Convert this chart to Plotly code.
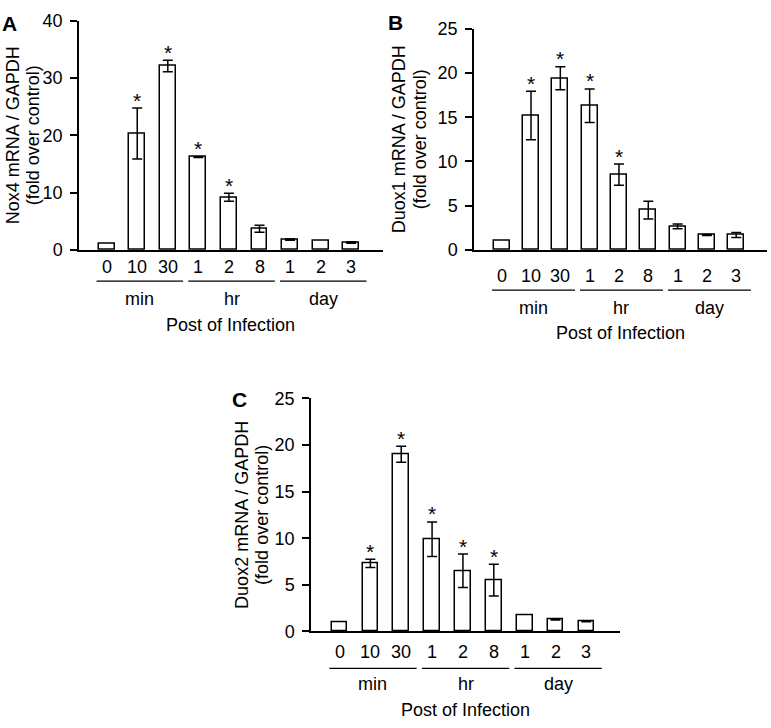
import plotly.graph_objects as go

# ---------------- data ----------------
categories = ["0", "10", "30", "1", "2", "8", "1", "2", "3"]
groups = ["min", "hr", "day"]
group_start = [0, 3, 6]

nox4 = [1.0, 20.3, 32.1, 16.2, 9.2, 3.7, 1.8, 1.6, 1.3]
nox4_err = [None, 4.45, 1.0, 0.08, 0.7, 0.6, 0.1, None, 0.12]
nox4_sig = [False, True, True, True, True, False, False, False, False]

duox1 = [1.0, 15.2, 19.4, 16.3, 8.5, 4.5, 2.65, 1.68, 1.68]
duox1_err = [None, 2.75, 1.3, 1.9, 1.2, 1.0, 0.27, 0.05, 0.28]
duox1_sig = [False, True, True, True, True, False, False, False, False]

duox2 = [1.0, 7.3, 19.0, 9.9, 6.5, 5.5, 1.78, 1.3, 1.1]
duox2_err = [None, 0.45, 0.85, 1.85, 1.8, 1.7, None, 0.07, 0.06]
duox2_sig = [False, True, True, True, True, True, False, False, False]

W, H = 771, 728
FONT = "Liberation Sans, Arial, Helvetica, sans-serif"
FS = 18

panels = [
    dict(letter="A", vals=nox4, err=nox4_err, sig=nox4_sig,
         ylabel1="Nox4 mRNA / GAPDH", ylabel2="(fold over control)",
         xpx=(79, 382.7), ypx=(11, 246.7), yrange=[0, 40], dtick=10,
         xrange=[-0.905, 9.03], bw=0.52,
         off=(17.5, 31.3, 49.3, 75.3), ylab_off=(-66, -46), letter_pos=(9, 13.5)),
    dict(letter="B", vals=duox1, err=duox1_err, sig=duox1_sig,
         ylabel1="Duox1 mRNA / GAPDH", ylabel2="(fold over control)",
         xpx=(474, 767), ypx=(19.3, 246.7), yrange=[0, 25], dtick=5,
         xrange=[-0.945, 9.05], bw=0.55,
         off=(26.3, 40.3, 58.3, 83.3), ylab_off=(-75, -54), letter_pos=(396, 12.7)),
    dict(letter="C", vals=duox2, err=duox2_err, sig=duox2_sig,
         ylabel1="Duox2 mRNA / GAPDH", ylabel2="(fold over control)",
         xpx=(311, 620), ypx=(399.3, 639), yrange=[0, 25], dtick=5,
         xrange=[-0.924, 9.09], bw=0.51,
         off=(21, 37, 53, 79), ylab_off=(-69, -49), letter_pos=(239, 400.3)),
]

fig = go.Figure()
annotations = []
shapes = []
layout = {}

for k, p in enumerate(panels):
    sfx = "" if k == 0 else str(k + 1)
    xa, ya = "x" + sfx, "y" + sfx
    xs = list(range(len(categories)))
    fig.add_trace(go.Bar(
        x=xs, y=p["vals"], width=p["bw"], xaxis=xa, yaxis=ya,
        marker=dict(color="white", line=dict(color="black", width=1.5)),
        showlegend=False, hoverinfo="skip"))
    ex = [i for i, e in enumerate(p["err"]) if e is not None]
    fig.add_trace(go.Scatter(
        x=ex, y=[p["vals"][i] for i in ex], xaxis=xa, yaxis=ya, mode="markers",
        marker=dict(size=1, color="rgba(0,0,0,0)"),
        error_y=dict(type="data", array=[p["err"][i] for i in ex], symmetric=True,
                     color="black", thickness=1.5, width=5),
        showlegend=False, hoverinfo="skip"))
    x0, x1 = p["xpx"]
    y0, y1 = p["ypx"]
    layout["xaxis" + sfx] = dict(
        domain=[x0 / W, x1 / W], range=p["xrange"], anchor=ya,
        showline=True, linecolor="black", linewidth=1.5, ticks="",
        showticklabels=False, showgrid=False, zeroline=False, fixedrange=True)
    layout["yaxis" + sfx] = dict(
        domain=[1 - y1 / H, 1 - y0 / H], range=p["yrange"], anchor=xa,
        tickvals=list(range(0, p["yrange"][1] + 1, p["dtick"])),
        showline=True, linecolor="black", linewidth=1.5, ticks="outside",
        ticklen=7, tickwidth=1.5, tickcolor="black", showgrid=False,
        ticklabelstandoff=4,
        zeroline=False, tickfont=dict(size=FS, color="black", family=FONT),
        fixedrange=True)
    xd, yd = xa + " domain", ya + " domain"
    o_lab, o_line, o_grp, o_title = p["off"]
    # category labels under each bar
    for i, c in enumerate(categories):
        annotations.append(dict(x=i, y=0, xref=xa, yref=yd, text=c, showarrow=False,
                                xanchor="center", yanchor="middle", yshift=-o_lab,
                                font=dict(size=FS, color="black", family=FONT)))
    # group lines and group labels
    for g, s in zip(groups, group_start):
        shapes.append(dict(type="line", xref=xa, yref=yd, x0=s - 0.33, x1=s + 2.5,
                           ysizemode="pixel", yanchor=0, y0=-o_line, y1=-o_line,
                           line=dict(color="black", width=1.3)))
        annotations.append(dict(x=s + 1.085, y=0, xref=xa, yref=yd, text=g,
                                showarrow=False, xanchor="center", yanchor="middle",
                                yshift=-o_grp,
                                font=dict(size=FS, color="black", family=FONT)))
    annotations.append(dict(x=0.5, y=0, xref=xd, yref=yd, text="Post of Infection",
                            showarrow=False, xanchor="center", yanchor="middle",
                            yshift=-o_title,
                            font=dict(size=FS, color="black", family=FONT)))
    # two-line y axis title
    for txt, off in ((p["ylabel1"], p["ylab_off"][0]), (p["ylabel2"], p["ylab_off"][1])):
        annotations.append(dict(x=0, y=0.5, xref=xd, yref=yd, text=txt, textangle=-90,
                                showarrow=False, xanchor="center", yanchor="middle",
                                xshift=off,
                                font=dict(size=FS, color="black", family=FONT)))
    # significance stars
    for i, s in enumerate(p["sig"]):
        if s:
            top = p["vals"][i] + (p["err"][i] or 0)
            annotations.append(dict(x=i, y=top, xref=xa, yref=ya, text="*",
                                    showarrow=False, xanchor="center", yanchor="middle",
                                    yshift=8,
                                    font=dict(size=21, color="black", family=FONT)))
    # panel letter
    lx, ly = p["letter_pos"]
    annotations.append(dict(x=lx / W, y=1 - ly / H, xref="paper", yref="paper",
                            text="<b>" + p["letter"] + "</b>", showarrow=False,
                            xanchor="center", yanchor="middle",
                            font=dict(size=21, color="black", family=FONT)))

fig.update_layout(
    width=W, height=H, margin=dict(l=0, r=0, t=0, b=0),
    paper_bgcolor="white", plot_bgcolor="white",
    font=dict(family=FONT, size=FS, color="black"),
    annotations=annotations, shapes=shapes, bargap=0, **layout)

fig.write_html(
    "out.html", config=dict(displayModeBar=False),
    post_script=("document.body.style.margin='0';document.body.style.overflow='hidden';"
                 "var d=document.getElementById('{plot_id}');d.style.overflow='hidden';"
                 "d.querySelectorAll('svg').forEach(function(s){s.style.overflow='hidden';});"))
